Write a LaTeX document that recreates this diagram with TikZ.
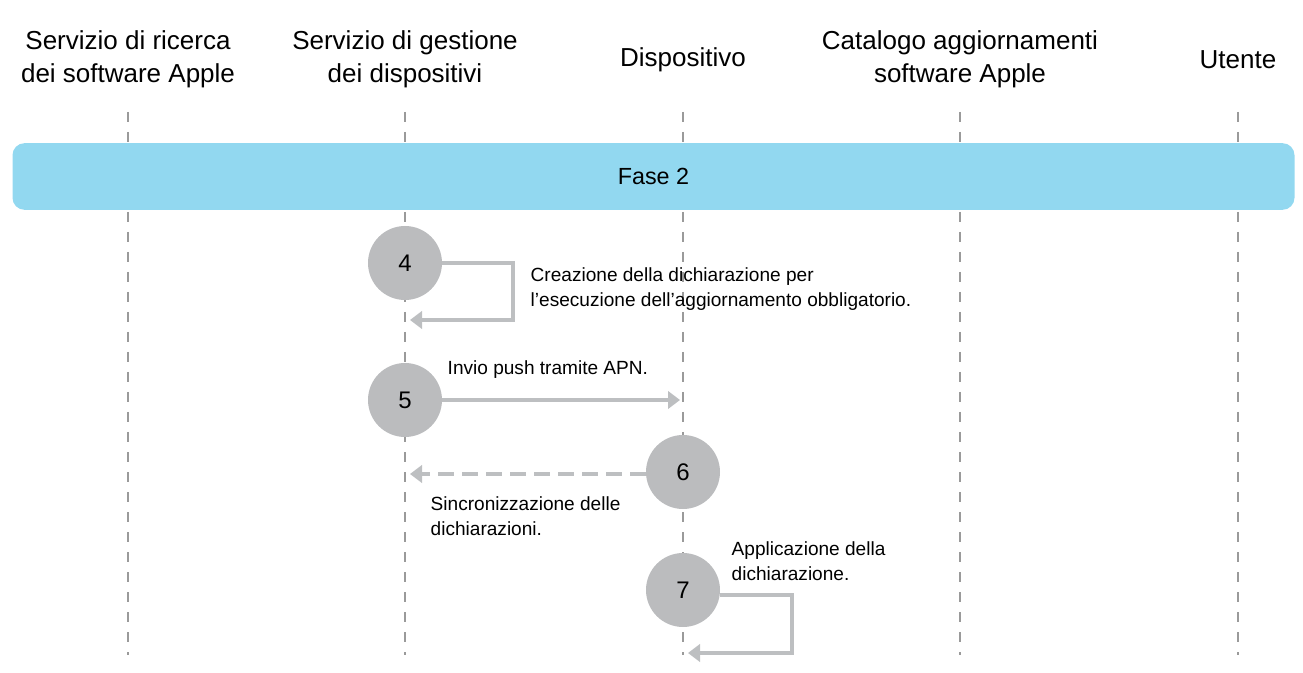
\documentclass[tikz,border=0pt]{standalone}
\usepackage{fontspec}
\setmainfont{Liberation Sans}
\usetikzlibrary{arrows.meta}
\definecolor{band}{HTML}{92D8F0}
\definecolor{circ}{HTML}{BBBCBE}
\definecolor{arr}{HTML}{BDBFC1}
\definecolor{life}{HTML}{9A9A9A}
\begin{document}
\begin{tikzpicture}[x=0.75pt,y=-0.75pt,
  hdr/.style={font=\fontsize{19.5}{24.5}\selectfont,align=center},
  lbl/.style={font=\fontsize{14.3}{18.75}\selectfont,align=left,anchor=west},
  num/.style={circle,fill=circ,minimum size=55.5pt,inner sep=0pt,font=\fontsize{18}{20}\selectfont},
  lifel/.style={draw=life,line width=0.8pt,dash pattern=on 7.5pt off 7.5pt},
  msg/.style={draw=arr,line width=3pt,-{Triangle[length=9pt,width=13pt]}}]
\useasboundingbox (0,0) rectangle (1303,673);
\foreach \x/\n in {128/a,405/b,683/c,960/d,1238/e}{
  \coordinate (t\n) at (\x,112); \coordinate (b\n) at (\x,655);
  \draw[lifel] (t\n) -- (b\n);}
\node[hdr] (h1) at (128,59) {Servizio di ricerca\\dei software Apple};
\node[hdr] (h2) at (405,59) {Servizio di gestione\\dei dispositivi};
\node[hdr] (h3) at (683,60) {Dispositivo};
\node[hdr] (h4) at (960,59) {Catalogo aggiornamenti\\software Apple};
\node[hdr] (h5) at (1238,60) {Utente};
\node[fill=band,rounded corners=9pt,minimum width=961.5pt,minimum height=50pt,
  font=\fontsize{17.5}{20}\selectfont] (fase) at (653.5,176.5) {Fase 2};
\node[num] (c4) at (405,263) {4};
\node[num] (c5) at (405,400) {5};
\node[num] (c6) at (683,472) {6};
\node[num] (c7) at (683,590) {7};
\coordinate (e4) at (410,320);
\coordinate (e5) at (680,400);
\coordinate (e6) at (410,474);
\coordinate (e7) at (688,653);
\draw[msg] (c4.east |- 0,263) -- (513,263) -- (513,320) -- (e4);
\draw[msg] (c5.east) -- (e5);
\draw[msg,dash pattern=on 12pt off 6pt] (c6.west |- 0,474) -- (e6);
\draw[msg] (720,595) -- (792,595) -- (792,653) -- (e7);
\node[lbl] (l4) at (526,289) {Creazione della dichiarazione per\\l’esecuzione dell’aggiornamento obbligatorio.};
\node[lbl] (l5) at (443,370) {Invio push tramite APN.};
\node[lbl] (l6) at (426,516) {Sincronizzazione delle\\dichiarazioni.};
\node[lbl] (l7) at (727,561) {Applicazione della\\dichiarazione.};
\end{tikzpicture}
\end{document}
